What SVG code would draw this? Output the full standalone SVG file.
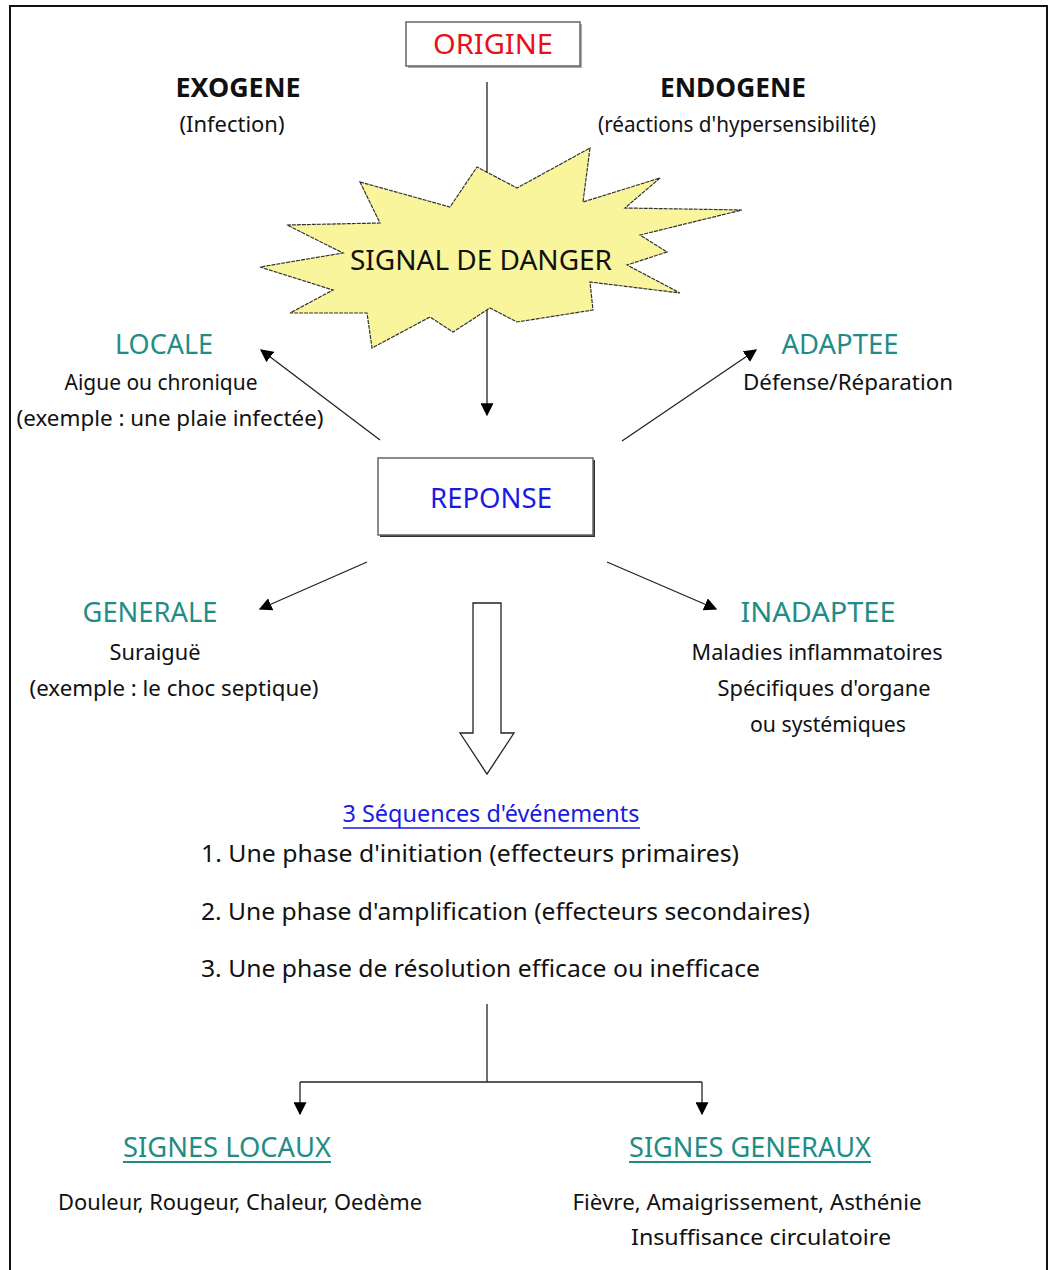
<svg xmlns="http://www.w3.org/2000/svg" width="1053" height="1270" viewBox="0 0 1053 1270">
<style>
text{font-family:"Noto Sans","DejaVu Sans",sans-serif;fill:#111;}
.h{font-size:27px;}
.b{font-size:21px;}
.bold{font-weight:bold;}
.teal{fill:#1f8c88;}
.line{stroke:#222;stroke-width:1.3;fill:none;}
.box{fill:#fff;stroke:#666;stroke-width:1.5;}
.shadow{fill:#777;}
</style>
<defs>
<marker id="ah" viewBox="0 0 10 10" refX="9" refY="5" markerWidth="13" markerHeight="13" markerUnits="userSpaceOnUse" orient="auto">
<path d="M0,0 L10,5 L0,10 z" fill="#000"/>
</marker>
</defs>
<rect x="0" y="0" width="1053" height="1270" fill="#fff"/>
<path d="M10,1270 V6 H1047 V1270" fill="none" stroke="#111" stroke-width="2"/>

<g id="connectors">
<line class="line" x1="487" y1="82" x2="487" y2="415" marker-end="url(#ah)"/>
<line class="line" x1="380" y1="440" x2="261" y2="350" marker-end="url(#ah)"/>
<line class="line" x1="622" y1="441" x2="756" y2="350" marker-end="url(#ah)"/>
<line class="line" x1="367" y1="562" x2="260" y2="609" marker-end="url(#ah)"/>
<line class="line" x1="607" y1="562" x2="716" y2="609" marker-end="url(#ah)"/>
<path class="line" d="M473,603 H501 V733 H514 L487,774 L460,733 H473 Z" stroke="#555" stroke-width="1.5" fill="#fff"/>
<line class="line" x1="487" y1="1004" x2="487" y2="1082"/>
<line class="line" x1="300" y1="1082" x2="702" y2="1082"/>
<line class="line" x1="300" y1="1082" x2="300" y2="1114" marker-end="url(#ah)"/>
<line class="line" x1="702" y1="1082" x2="702" y2="1114" marker-end="url(#ah)"/>
</g>

<g id="origine">
<rect x="408" y="24" width="174" height="44" fill="#aaa"/>
<rect class="box" x="406" y="22" width="174" height="44"/>
<text x="493" y="54" class="h" text-anchor="middle" style="fill:#e8101a" textLength="120" lengthAdjust="spacingAndGlyphs">ORIGINE</text>
</g>

<g id="exogene">
<text x="238" y="97" class="h bold" text-anchor="middle" textLength="125" lengthAdjust="spacingAndGlyphs">EXOGENE</text>
<text x="232" y="132" class="b" text-anchor="middle" textLength="105" lengthAdjust="spacingAndGlyphs">(Infection)</text>
</g>

<g id="endogene">
<text x="733" y="97" class="h bold" text-anchor="middle" textLength="146" lengthAdjust="spacingAndGlyphs">ENDOGENE</text>
<text x="737" y="132" class="b" text-anchor="middle" textLength="278" lengthAdjust="spacingAndGlyphs">(réactions d'hypersensibilité)</text>
</g>

<g id="signal">
<polygon points="360,182 450,207 477,167 517,188 590,148 583,202 660,178 625,208 742,210 640,235 667,252 627,265 680,293 590,282 593,310 517,322 490,308 453,332 430,317 372,348 367,313 290,313 333,290 260,267 343,253 287,225 380,223" fill="#f9f59c" stroke="#333" stroke-width="1.2" stroke-dasharray="4,1"/>
<text x="481" y="270" class="h" text-anchor="middle" textLength="262" lengthAdjust="spacingAndGlyphs">SIGNAL DE DANGER</text>
</g>

<g id="locale">
<text x="164" y="354" class="h teal" text-anchor="middle" textLength="98" lengthAdjust="spacingAndGlyphs">LOCALE</text>
<text x="161" y="390" class="b" text-anchor="middle" textLength="193" lengthAdjust="spacingAndGlyphs">Aigue ou chronique</text>
<text x="170" y="426" class="b" text-anchor="middle" textLength="307" lengthAdjust="spacingAndGlyphs">(exemple : une plaie infectée)</text>
</g>

<g id="adaptee">
<text x="840" y="354" class="h teal" text-anchor="middle" textLength="117" lengthAdjust="spacingAndGlyphs">ADAPTEE</text>
<text x="848" y="390" class="b" text-anchor="middle" textLength="210" lengthAdjust="spacingAndGlyphs">Défense/Réparation</text>
</g>

<g id="reponse">
<rect x="380" y="460" width="215" height="77" fill="#333"/>
<rect class="box" x="378" y="458" width="215" height="77" stroke="#555"/>
<text x="491" y="508" class="h" text-anchor="middle" style="fill:#1a1ae6" textLength="122" lengthAdjust="spacingAndGlyphs">REPONSE</text>
</g>

<g id="generale">
<text x="150" y="622" class="h teal" text-anchor="middle" textLength="135" lengthAdjust="spacingAndGlyphs">GENERALE</text>
<text x="155" y="660" class="b" text-anchor="middle" textLength="91" lengthAdjust="spacingAndGlyphs">Suraiguë</text>
<text x="174" y="696" class="b" text-anchor="middle" textLength="289" lengthAdjust="spacingAndGlyphs">(exemple : le choc septique)</text>
</g>

<g id="inadaptee">
<text x="818" y="622" class="h teal" text-anchor="middle" textLength="155" lengthAdjust="spacingAndGlyphs">INADAPTEE</text>
<text x="817" y="660" class="b" text-anchor="middle" textLength="251" lengthAdjust="spacingAndGlyphs">Maladies inflammatoires</text>
<text x="824" y="696" class="b" text-anchor="middle" textLength="213" lengthAdjust="spacingAndGlyphs">Spécifiques d'organe</text>
<text x="828" y="732" class="b" text-anchor="middle" textLength="156" lengthAdjust="spacingAndGlyphs">ou systémiques</text>
</g>

<g id="sequences">
<text x="491" y="822" text-anchor="middle" style="font-size:23px;fill:#1a1ae6" textLength="297" lengthAdjust="spacingAndGlyphs">3 Séquences d'événements</text>
<line x1="343" y1="828" x2="640" y2="828" stroke="#1a1ae6" stroke-width="1.5"/>
<text x="201" y="862" style="font-size:23px" textLength="538" lengthAdjust="spacingAndGlyphs">1. Une phase d'initiation (effecteurs primaires)</text>
<text x="201" y="920" style="font-size:23px" textLength="609" lengthAdjust="spacingAndGlyphs">2. Une phase d'amplification (effecteurs secondaires)</text>
<text x="201" y="977" style="font-size:23px" textLength="559" lengthAdjust="spacingAndGlyphs">3. Une phase de résolution efficace ou inefficace</text>
</g>

<g id="signes-locaux">
<text x="227" y="1157" class="h teal" text-anchor="middle" textLength="208" lengthAdjust="spacingAndGlyphs">SIGNES LOCAUX</text>
<line x1="123" y1="1162" x2="331" y2="1162" stroke="#1f8c88" stroke-width="2"/>
<text x="240" y="1210" class="b" text-anchor="middle" textLength="364" lengthAdjust="spacingAndGlyphs">Douleur, Rougeur, Chaleur, Oedème</text>
</g>

<g id="signes-generaux">
<text x="750" y="1157" class="h teal" text-anchor="middle" textLength="242" lengthAdjust="spacingAndGlyphs">SIGNES GENERAUX</text>
<line x1="629" y1="1162" x2="871" y2="1162" stroke="#1f8c88" stroke-width="2"/>
<text x="747" y="1210" class="b" text-anchor="middle" textLength="349" lengthAdjust="spacingAndGlyphs">Fièvre, Amaigrissement, Asthénie</text>
<text x="761" y="1245" class="b" text-anchor="middle" textLength="260" lengthAdjust="spacingAndGlyphs">Insuffisance circulatoire</text>
</g>
</svg>
